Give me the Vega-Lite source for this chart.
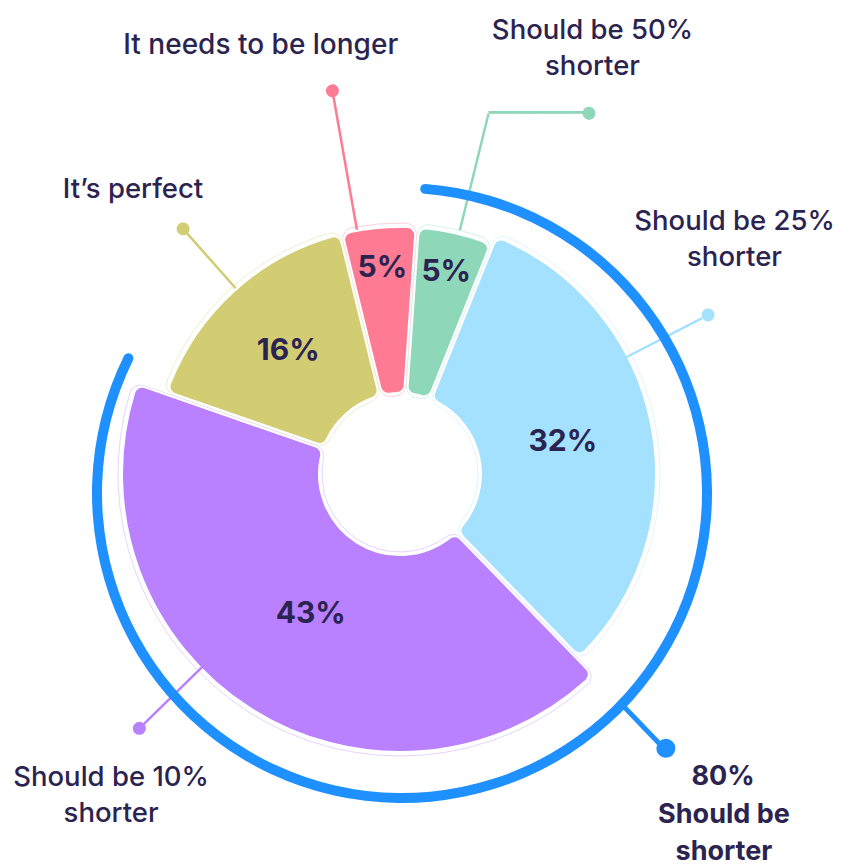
{
  "$schema": "https://vega.github.io/schema/vega-lite/v6.json",
  "width": 800,
  "height": 784,
  "autosize": "none",
  "padding": {"left": 0, "top": 82, "right": 53, "bottom": 0},
  "background": "#ffffff",
  "config": {"view": {"stroke": null}, "text": {"font": "Inter", "color": "#2b2350"}},
  "data": {
    "values": [
      {"answer": "Should be 50%\nshorter", "share": 0.05, "rank": 1, "group": "Should be\nshorter"},
      {"answer": "Should be 25%\nshorter", "share": 0.32, "rank": 2, "group": "Should be\nshorter"},
      {"answer": "Should be 10%\nshorter", "share": 0.43, "rank": 3, "group": "Should be\nshorter"},
      {"answer": "It’s perfect", "share": 0.16, "rank": 4, "group": "Other"},
      {"answer": "It needs to be longer", "share": 0.05, "rank": 5, "group": "Other"}
    ]
  },
  "transform": [
    {"stack": "share", "groupby": [], "sort": [{"field": "rank", "order": "ascending"}], "as": ["t0", "t1"]}
  ],
  "layer": [
    {
      "mark": {"type": "arc", "filled": false, "innerRadius": 78, "cornerRadius": 11, "padAngle": 0.004, "strokeWidth": 1, "strokeOpacity": 0.35, "radiusOffset": 4},
      "encoding": {
        "theta": {"field": "t0", "type": "quantitative", "stack": null, "scale": {"domain": [0, 1.01], "range": [0.0698, 6.353]}},
        "theta2": {"field": "t1"},
        "radius": {"field": "share", "type": "quantitative", "scale": {"type": "linear", "domain": [0.05, 0.16, 0.32, 0.43], "range": [247, 247, 256, 278], "zero": false, "nice": false}},
        "color": {"field": "answer", "type": "nominal", "legend": null, "scale": {"domain": ["Should be 50%\nshorter", "Should be 25%\nshorter", "Should be 10%\nshorter", "It’s perfect", "It needs to be longer"], "range": ["#8fd7b9", "#a3e1ff", "#b980ff", "#d2cd73", "#ff7b94"]}}
      }
    },
    {
      "mark": {"type": "arc", "innerRadius": 81, "cornerRadius": 8, "padAngle": 0.012, "stroke": "#ffffff", "strokeWidth": 2},
      "encoding": {
        "theta": {"field": "t0", "type": "quantitative", "stack": null, "scale": {"domain": [0, 1.01], "range": [0.0698, 6.353]}},
        "theta2": {"field": "t1"},
        "radius": {"field": "share", "type": "quantitative", "scale": {"type": "linear", "domain": [0.05, 0.16, 0.32, 0.43], "range": [247, 247, 256, 278], "zero": false, "nice": false}},
        "color": {"field": "answer", "type": "nominal", "legend": null, "scale": {"domain": ["Should be 50%\nshorter", "Should be 25%\nshorter", "Should be 10%\nshorter", "It’s perfect", "It needs to be longer"], "range": ["#8fd7b9", "#a3e1ff", "#b980ff", "#d2cd73", "#ff7b94"]}}
      }
    },
    {
      "mark": {"type": "text", "radius": 166, "fontSize": 30, "fontWeight": 700, "align": "center", "baseline": "middle"},
      "encoding": {
        "theta": {"field": "share", "type": "quantitative", "stack": true, "scale": {"domain": [0, 1.01], "range": [0.0698, 6.353]}},
        "order": {"field": "rank", "type": "quantitative", "sort": "ascending"},
        "detail": {"field": "answer", "type": "nominal"},
        "text": {"field": "share", "type": "quantitative", "format": ".0%", "condition": {"test": "datum.share < 0.1", "value": ""}}
      }
    },
    {
      "mark": {"type": "text", "radius": 207, "fontSize": 30, "fontWeight": 700, "align": "center", "baseline": "middle"},
      "encoding": {
        "theta": {"field": "share", "type": "quantitative", "stack": true, "scale": {"domain": [0, 1.01], "range": [0.0698, 6.353]}},
        "order": {"field": "rank", "type": "quantitative", "sort": "ascending"},
        "detail": {"field": "answer", "type": "nominal"},
        "text": {"field": "share", "type": "quantitative", "format": ".0%", "condition": {"test": "datum.share > 0.1", "value": ""}}
      }
    },
    {
      "transform": [{"filter": "datum.rank === 1"}],
      "encoding": {
        "theta": {"field": "t0", "type": "quantitative", "stack": null, "scale": {"domain": [0, 1.01], "range": [0.0698, 6.353]}},
        "color": {"field": "answer", "type": "nominal", "legend": null, "scale": {"domain": ["Should be 50%\nshorter", "Should be 25%\nshorter", "Should be 10%\nshorter", "It’s perfect", "It needs to be longer"], "range": ["#8fd7b9", "#a3e1ff", "#b980ff", "#d2cd73", "#ff7b94"]}}
      },
      "layer": [
        {"mark": {"type": "arc", "filled": false, "innerRadius": 251, "outerRadius": 371, "strokeWidth": 2.5, "thetaOffset": 0.17104, "theta2Offset": 0.17104}, "encoding": {"theta2": {"field": "t0"}}},
        {"mark": {"type": "text", "text": "━━━━━━━━━━", "font": "DejaVu Sans", "fontSize": 16.8, "align": "left", "baseline": "middle", "radius": 371.6, "thetaOffset": 0.17034}},
        {"mark": {"type": "arc", "innerRadius": 400.7, "outerRadius": 413.7, "cornerRadius": 6.5, "thetaOffset": 0.39681, "theta2Offset": 0.42873}, "encoding": {"theta2": {"field": "t0"}}},
        {"mark": {"type": "text", "radius": 483, "thetaOffset": 0.34016, "fontSize": 27.5, "fontWeight": 500, "lineHeight": 36, "lineBreak": "\n", "align": "center", "baseline": "middle"}, "encoding": {"text": {"field": "answer", "type": "nominal"}, "color": {"value": "#2b2350"}}}
      ]
    },
    {
      "transform": [{"filter": "datum.rank === 2"}],
      "encoding": {
        "theta": {"field": "t0", "type": "quantitative", "stack": null, "scale": {"domain": [0, 1.01], "range": [0.0698, 6.353]}},
        "color": {"field": "answer", "type": "nominal", "legend": null, "scale": {"domain": ["Should be 50%\nshorter", "Should be 25%\nshorter", "Should be 10%\nshorter", "It’s perfect", "It needs to be longer"], "range": ["#8fd7b9", "#a3e1ff", "#b980ff", "#d2cd73", "#ff7b94"]}}
      },
      "layer": [
        {"mark": {"type": "arc", "filled": false, "innerRadius": 254, "outerRadius": 340, "strokeWidth": 2.5, "thetaOffset": 0.71349, "theta2Offset": 0.71349}, "encoding": {"theta2": {"field": "t0"}}},
        {"mark": {"type": "arc", "innerRadius": 340.2, "outerRadius": 353.2, "cornerRadius": 6.5, "thetaOffset": 0.69474, "theta2Offset": 0.73224}, "encoding": {"theta2": {"field": "t0"}}},
        {"mark": {"type": "text", "radius": 418.5, "thetaOffset": 0.54524, "fontSize": 27.5, "fontWeight": 500, "lineHeight": 36, "lineBreak": "\n", "align": "center", "baseline": "middle"}, "encoding": {"text": {"field": "answer", "type": "nominal"}, "color": {"value": "#2b2350"}}}
      ]
    },
    {
      "transform": [{"filter": "datum.rank === 3"}],
      "encoding": {
        "theta": {"field": "t0", "type": "quantitative", "stack": null, "scale": {"domain": [0, 1.01], "range": [0.0698, 6.353]}},
        "color": {"field": "answer", "type": "nominal", "legend": null, "scale": {"domain": ["Should be 50%\nshorter", "Should be 25%\nshorter", "Should be 10%\nshorter", "It’s perfect", "It needs to be longer"], "range": ["#8fd7b9", "#a3e1ff", "#b980ff", "#d2cd73", "#ff7b94"]}}
      },
      "layer": [
        {"mark": {"type": "arc", "filled": false, "innerRadius": 277, "outerRadius": 358, "strokeWidth": 2.5, "thetaOffset": 1.56766, "theta2Offset": 1.56766}, "encoding": {"theta2": {"field": "t0"}}},
        {"mark": {"type": "arc", "innerRadius": 357.7, "outerRadius": 370.7, "cornerRadius": 6.5, "thetaOffset": 1.54981, "theta2Offset": 1.58551}, "encoding": {"theta2": {"field": "t0"}}},
        {"mark": {"type": "text", "radius": 419.4, "thetaOffset": 1.53013, "fontSize": 27.5, "fontWeight": 500, "lineHeight": 36, "lineBreak": "\n", "align": "center", "baseline": "middle"}, "encoding": {"text": {"field": "answer", "type": "nominal"}, "color": {"value": "#2b2350"}}}
      ]
    },
    {
      "transform": [{"filter": "datum.rank === 4"}],
      "encoding": {
        "theta": {"field": "t0", "type": "quantitative", "stack": null, "scale": {"domain": [0, 1.01], "range": [0.0698, 6.353]}},
        "color": {"field": "answer", "type": "nominal", "legend": null, "scale": {"domain": ["Should be 50%\nshorter", "Should be 25%\nshorter", "Should be 10%\nshorter", "It’s perfect", "It needs to be longer"], "range": ["#8fd7b9", "#a3e1ff", "#b980ff", "#d2cd73", "#ff7b94"]}}
      },
      "layer": [
        {"mark": {"type": "arc", "filled": false, "innerRadius": 248, "outerRadius": 321, "strokeWidth": 2.5, "thetaOffset": 0.51226, "theta2Offset": 0.51226}, "encoding": {"theta2": {"field": "t0"}}},
        {"mark": {"type": "arc", "innerRadius": 320.8, "outerRadius": 333.8, "cornerRadius": 6.5, "thetaOffset": 0.4924, "theta2Offset": 0.53212}, "encoding": {"theta2": {"field": "t0"}}},
        {"mark": {"type": "text", "radius": 390, "thetaOffset": 0.48258, "fontSize": 27.5, "fontWeight": 500, "lineHeight": 36, "lineBreak": "\n", "align": "center", "baseline": "middle"}, "encoding": {"text": {"field": "answer", "type": "nominal"}, "color": {"value": "#2b2350"}}}
      ]
    },
    {
      "transform": [{"filter": "datum.rank === 5"}],
      "encoding": {
        "theta": {"field": "t0", "type": "quantitative", "stack": null, "scale": {"domain": [0, 1.01], "range": [0.0698, 6.353]}},
        "color": {"field": "answer", "type": "nominal", "legend": null, "scale": {"domain": ["Should be 50%\nshorter", "Should be 25%\nshorter", "Should be 10%\nshorter", "It’s perfect", "It needs to be longer"], "range": ["#8fd7b9", "#a3e1ff", "#b980ff", "#d2cd73", "#ff7b94"]}}
      },
      "layer": [
        {"mark": {"type": "arc", "filled": false, "innerRadius": 248, "outerRadius": 383, "strokeWidth": 2.5, "thetaOffset": 0.06667, "theta2Offset": 0.06667}, "encoding": {"theta2": {"field": "t0"}}},
        {"mark": {"type": "arc", "innerRadius": 382.6, "outerRadius": 395.6, "cornerRadius": 6.5, "thetaOffset": 0.04996, "theta2Offset": 0.08338}, "encoding": {"theta2": {"field": "t0"}}},
        {"mark": {"type": "text", "radius": 450.5, "thetaOffset": -0.07295, "fontSize": 28, "fontWeight": 500, "lineHeight": 36, "lineBreak": "\n", "align": "center", "baseline": "middle"}, "encoding": {"text": {"field": "answer", "type": "nominal"}, "color": {"value": "#2b2350"}}}
      ]
    },
    {
      "transform": [
        {"filter": "datum.rank <= 3"},
        {"aggregate": [{"op": "min", "field": "t0", "as": "g0"}, {"op": "max", "field": "t1", "as": "g1"}, {"op": "sum", "field": "share", "as": "total"}], "groupby": ["group"]}
      ],
      "encoding": {
        "theta": {"field": "g0", "type": "quantitative", "stack": null, "scale": {"domain": [0, 1.01], "range": [0.0698, 6.353]}}
      },
      "layer": [
        {"mark": {"type": "arc", "innerRadius": 300, "outerRadius": 310, "cornerRadius": 5, "color": "#1e90ff", "thetaOffset": -0.01, "theta2Offset": 0.14, "xOffset": 2, "yOffset": 19}, "encoding": {"theta2": {"field": "g1"}}},
        {"mark": {"type": "arc", "filled": false, "innerRadius": 318, "outerRadius": 376, "strokeWidth": 5, "color": "#1e90ff", "thetaOffset": 2.3056, "theta2Offset": 2.3056}, "encoding": {"theta2": {"field": "g0"}}},
        {"mark": {"type": "arc", "innerRadius": 372.5, "outerRadius": 391.5, "cornerRadius": 9.5, "color": "#1e90ff", "thetaOffset": 2.2772, "theta2Offset": 2.327}, "encoding": {"theta2": {"field": "g0"}}},
        {"mark": {"type": "text", "radius": 443.2, "thetaOffset": 2.255, "fontSize": 27, "fontWeight": 700, "align": "center", "baseline": "middle"}, "encoding": {"text": {"field": "total", "type": "quantitative", "format": ".0%"}}},
        {"mark": {"type": "text", "radius": 470.7, "thetaOffset": 2.31274, "fontSize": 27, "fontWeight": 700, "lineHeight": 37, "lineBreak": "\n", "align": "center", "baseline": "middle"}, "encoding": {"text": {"field": "group", "type": "nominal"}}}
      ]
    }
  ]
}
